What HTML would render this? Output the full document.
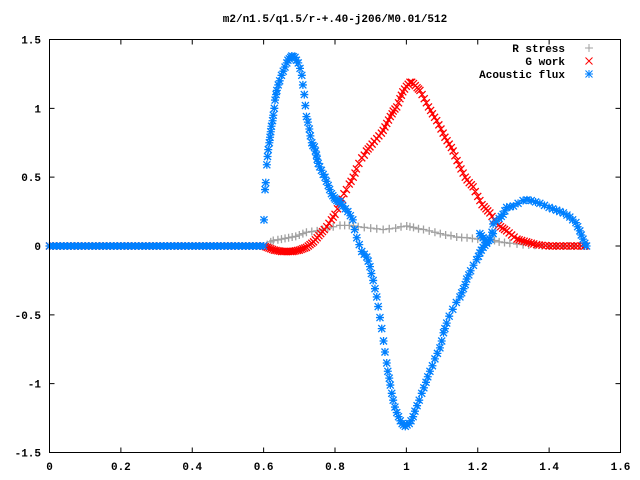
<!DOCTYPE html>
<html><head><meta charset="utf-8"><style>
html,body{margin:0;padding:0;background:#fff;}
svg{display:block;font-family:"Liberation Mono",monospace;font-size:11px;font-weight:bold;}
</style></head><body>
<svg id="chart" width="640" height="480" viewBox="0 0 640 480" xmlns="http://www.w3.org/2000/svg">
<rect width="640" height="480" fill="#fff"/>
<text x="335" y="22" text-anchor="middle">m2/n1.5/q1.5/r-+.40-j206/M0.01/512</text>
<g id="axes"></g>
<g id="series"></g>
<g id="legend"></g>
<rect x="49.5" y="39.5" width="571" height="413" fill="none" stroke="#000" stroke-width="1"/>
</svg>
<script>
const xTicks=[0,0.2,0.4,0.6,0.8,1,1.2,1.4,1.6];
const xTickLabels=["0","0.2","0.4","0.6","0.8","1","1.2","1.4","1.6"];
const yTicks=[-1.5,-1,-0.5,0,0.5,1,1.5];
const yTickLabels=["-1.5","-1","-0.5","0","0.5","1","1.5"];
const seriesNames=["R stress","G work","Acoustic flux"];
const zeroX=[0,0.01,0.02,0.03,0.04,0.05,0.06,0.07,0.08,0.09,0.1,0.11,0.12,0.13,0.14,0.15,0.16,0.17,0.18,0.19,0.2,0.21,0.22,0.23,0.24,0.25,0.26,0.27,0.28,0.29,0.3,0.31,0.32,0.33,0.34,0.35,0.36,0.37,0.38,0.39,0.4,0.41,0.42,0.43,0.44,0.45,0.46,0.47,0.48,0.49,0.5,0.51,0.52,0.53,0.54,0.55,0.56,0.57,0.58,0.59,0.6];
const stressX=[0.61,0.62,0.627,0.64,0.65,0.66,0.67,0.68,0.69,0.7,0.71,0.72,0.735,0.75,0.765,0.78,0.795,0.814,0.827,0.84,0.852,0.865,0.882,0.9,0.917,0.935,0.952,0.97,0.985,1.001,1.01,1.02,1.034,1.048,1.064,1.08,1.095,1.11,1.125,1.141,1.155,1.17,1.185,1.2,1.217,1.234,1.247,1.26,1.275,1.29,1.31,1.327,1.343,1.36,1.38,1.4,1.42,1.44,1.455,1.47,1.485,1.5];
const stressY=[0.01,0.03,0.04,0.045,0.05,0.055,0.06,0.065,0.07,0.08,0.09,0.10,0.105,0.11,0.12,0.13,0.14,0.15,0.15,0.15,0.145,0.14,0.135,0.13,0.125,0.12,0.125,0.13,0.14,0.145,0.14,0.135,0.125,0.12,0.11,0.10,0.09,0.08,0.075,0.065,0.062,0.06,0.055,0.05,0.047,0.045,0.04,0.03,0.025,0.02,0.015,0.01,0.008,0.005,0.003,0,0,0,0,0,0,0];
const workX=[0.6,0.605,0.61,0.615,0.62,0.625,0.63,0.635,0.64,0.645,0.65,0.655,0.66,0.665,0.67,0.675,0.68,0.685,0.69,0.695,0.7,0.705,0.71,0.715,0.72,0.725,0.73,0.735,0.74,0.745,0.75,0.755,0.76,0.765,0.77,0.777,0.783,0.79,0.795,0.8,0.807,0.814,0.82,0.825,0.832,0.84,0.845,0.851,0.856,0.86,0.867,0.875,0.882,0.888,0.893,0.898,0.904,0.91,0.917,0.923,0.93,0.935,0.94,0.945,0.95,0.955,0.96,0.963,0.968,0.973,0.978,0.982,0.986,0.99,0.995,1.0,1.005,1.01,1.015,1.02,1.025,1.03,1.034,1.038,1.044,1.05,1.056,1.062,1.068,1.073,1.079,1.085,1.091,1.097,1.103,1.108,1.114,1.12,1.126,1.131,1.136,1.142,1.148,1.153,1.159,1.165,1.17,1.176,1.182,1.187,1.193,1.2,1.206,1.212,1.218,1.223,1.228,1.234,1.24,1.246,1.252,1.258,1.264,1.27,1.275,1.281,1.288,1.295,1.302,1.31,1.316,1.323,1.33,1.337,1.343,1.35,1.357,1.365,1.372,1.38,1.39,1.4,1.41,1.42,1.43,1.44,1.45,1.46,1.47,1.48,1.49,1.5];
const workY=[0,-0.005,-0.01,-0.015,-0.02,-0.025,-0.03,-0.032,-0.035,-0.037,-0.04,-0.04,-0.04,-0.04,-0.04,-0.04,-0.04,-0.038,-0.035,-0.032,-0.03,-0.025,-0.02,-0.015,-0.01,0,0.01,0.02,0.03,0.045,0.06,0.075,0.09,0.105,0.12,0.14,0.165,0.19,0.21,0.23,0.27,0.31,0.34,0.38,0.41,0.45,0.47,0.5,0.53,0.56,0.6,0.64,0.66,0.69,0.705,0.72,0.74,0.76,0.78,0.8,0.82,0.84,0.865,0.89,0.915,0.94,0.96,0.98,0.995,1.01,1.04,1.07,1.095,1.12,1.14,1.16,1.175,1.19,1.19,1.18,1.165,1.15,1.14,1.13,1.1,1.07,1.04,1.01,0.985,0.96,0.935,0.91,0.88,0.85,0.82,0.79,0.765,0.74,0.715,0.69,0.655,0.62,0.59,0.56,0.53,0.5,0.48,0.46,0.445,0.43,0.395,0.36,0.33,0.30,0.285,0.27,0.255,0.24,0.215,0.19,0.17,0.15,0.14,0.13,0.12,0.11,0.095,0.08,0.065,0.05,0.045,0.04,0.035,0.03,0.025,0.02,0.015,0.01,0.008,0.005,0.003,0,0,0,0,0,0,0,0,0,0,0];
const fluxX=[0.601,0.604,0.606,0.609,0.611,0.613,0.616,0.618,0.62,0.622,0.625,0.627,0.63,0.632,0.635,0.637,0.641,0.645,0.65,0.655,0.66,0.665,0.668,0.672,0.676,0.679,0.683,0.688,0.692,0.697,0.702,0.707,0.71,0.714,0.717,0.72,0.724,0.728,0.731,0.735,0.738,0.742,0.745,0.748,0.75,0.753,0.757,0.762,0.767,0.772,0.776,0.781,0.785,0.79,0.794,0.798,0.801,0.805,0.81,0.814,0.818,0.822,0.829,0.836,0.843,0.85,0.855,0.861,0.868,0.875,0.882,0.889,0.893,0.898,0.902,0.907,0.912,0.917,0.921,0.926,0.931,0.936,0.94,0.945,0.948,0.952,0.955,0.959,0.963,0.968,0.973,0.978,0.983,0.988,0.992,0.997,1.002,1.008,1.013,1.019,1.024,1.03,1.036,1.043,1.049,1.055,1.06,1.066,1.073,1.08,1.087,1.094,1.099,1.104,1.108,1.113,1.12,1.13,1.14,1.15,1.155,1.16,1.165,1.169,1.175,1.18,1.188,1.197,1.202,1.206,1.21,1.215,1.22,1.225,1.234,1.243,1.206,1.21,1.215,1.22,1.225,1.23,1.235,1.24,1.243,1.252,1.26,1.266,1.271,1.276,1.281,1.29,1.3,1.313,1.327,1.338,1.35,1.362,1.374,1.387,1.4,1.41,1.421,1.43,1.44,1.45,1.458,1.466,1.475,1.48,1.486,1.49,1.495,1.5,1.505];
const fluxY=[0.19,0.41,0.46,0.59,0.65,0.70,0.75,0.79,0.83,0.87,0.91,0.95,1.0,1.06,1.1,1.13,1.17,1.2,1.24,1.27,1.3,1.33,1.35,1.36,1.37,1.38,1.375,1.37,1.35,1.33,1.29,1.24,1.17,1.1,1.02,0.94,0.9,0.85,0.8,0.75,0.73,0.72,0.69,0.66,0.63,0.6,0.575,0.55,0.52,0.5,0.47,0.44,0.41,0.38,0.365,0.35,0.34,0.33,0.325,0.32,0.305,0.29,0.27,0.25,0.22,0.19,0.12,0.06,0.01,-0.04,-0.06,-0.08,-0.11,-0.15,-0.2,-0.25,-0.31,-0.37,-0.44,-0.52,-0.6,-0.69,-0.77,-0.85,-0.91,-0.96,-1.01,-1.07,-1.12,-1.17,-1.21,-1.24,-1.27,-1.29,-1.3,-1.31,-1.3,-1.29,-1.27,-1.24,-1.2,-1.16,-1.12,-1.07,-1.03,-0.99,-0.95,-0.91,-0.87,-0.82,-0.78,-0.74,-0.69,-0.63,-0.6,-0.56,-0.51,-0.46,-0.41,-0.37,-0.34,-0.31,-0.28,-0.24,-0.21,-0.18,-0.14,-0.1,-0.075,-0.05,-0.03,-0.01,0.005,0.02,0.05,0.09,0.09,0.075,0.06,0.045,0.03,0.04,0.05,0.1,0.16,0.18,0.2,0.215,0.23,0.255,0.28,0.285,0.29,0.31,0.33,0.335,0.33,0.32,0.31,0.295,0.28,0.27,0.26,0.25,0.24,0.225,0.21,0.19,0.17,0.14,0.11,0.08,0.05,0.02,0];

const NS="http://www.w3.org/2000/svg";
const X0=49.5,X1=620.5,Y0=452.5,Y1=39.5;
function sx(v){return X0+(v-0)/(1.6-0)*(X1-X0);}
function sy(v){return Y0-(v+1.5)/3*(Y0-Y1);}
function mk(tag,attrs,parent){const e=document.createElementNS(NS,tag);for(const k in attrs)e.setAttribute(k,attrs[k]);parent.appendChild(e);return e;}
const axes=document.getElementById('axes');
xTicks.forEach((t,i)=>{
  const x=sx(t);
  const tk=mk('path',{d:`M${x},${Y0}v-5M${x},${Y1}v5`,stroke:'#000','stroke-width':1},axes);
  
  
  const lb=mk('text',{x:x,y:470,'text-anchor':'middle'},axes);
  lb.textContent=xTickLabels[i];
  
  
});
yTicks.forEach((t,i)=>{
  const y=sy(t);
  const tk=mk('path',{d:`M${X0},${y}h5M${X1},${y}h-5`,stroke:'#000','stroke-width':1},axes);
  
  
  const lb=mk('text',{x:41,y:y+4,'text-anchor':'end'},axes);
  lb.textContent=yTickLabels[i];
  
  
});
const ser=document.getElementById('series');
function plus(x,y){return `M${x-4},${y}h8M${x},${y-4}v8`;}
function cross(x,y){return `M${x-3.5},${y-3.5}l7,7M${x-3.5},${y+3.5}l7,-7`;}
function star(x,y){return plus(x,y)+cross(x,y);}
function drawSeries(xs,ys,shape,color,name){
  let d='';
  for(let i=0;i<xs.length;i++)d+=shape(sx(xs[i]),sy(ys[i]));
  const p=mk('path',{d:d,stroke:color,'stroke-width':1.3,fill:'none'},ser);
  
  
}
const zeroY=zeroX.map(()=>0);
drawSeries(stressX,stressY,plus,'#a0a0a0','r-stress-points');
drawSeries(zeroX,zeroY,plus,'#a0a0a0','r-stress-zero-points');
drawSeries(zeroX,zeroY,cross,'#ff0000','g-work-zero-points');
drawSeries(workX,workY,cross,'#ff0000','g-work-points');
drawSeries(zeroX,zeroY,star,'#0080ff','acoustic-flux-zero-points');
drawSeries(fluxX,fluxY,star,'#0080ff','acoustic-flux-points');
const lg=document.getElementById('legend');
const colors=['#a0a0a0','#ff0000','#0080ff'];
const shapes=[plus,cross,star];
seriesNames.forEach((n,i)=>{
  const y=48+i*13;
  const t=mk('text',{x:565,y:y+4,'text-anchor':'end'},lg);
  t.textContent=n;
  
  
  const m=mk('path',{d:shapes[i](589,y),stroke:colors[i],'stroke-width':1,fill:'none'},lg);
  
  
});
</script>
</body></html>
